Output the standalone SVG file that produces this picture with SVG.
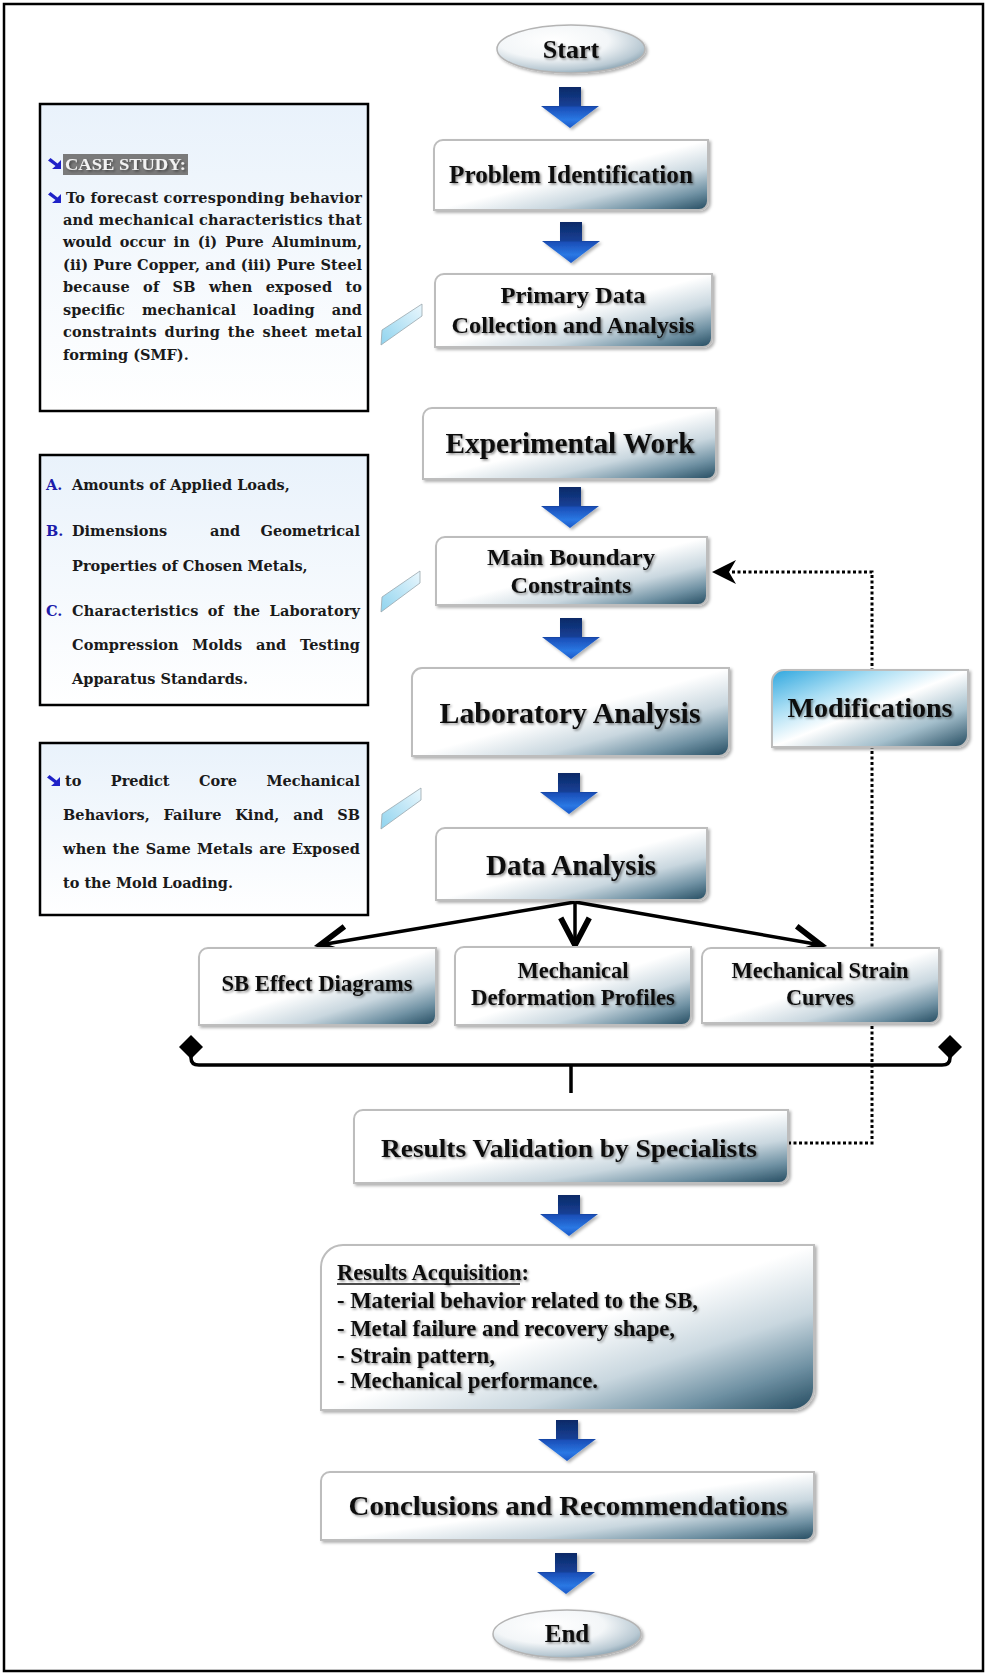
<svg xmlns="http://www.w3.org/2000/svg" width="987" height="1675" viewBox="0 0 987 1675">
<style>
.box{fill:url(#gBox);stroke:#bdbdbd;stroke-width:2;filter:url(#bs)}
.mod{fill:url(#gMod);stroke:#bdbdbd;stroke-width:2;filter:url(#bs)}
.ell{fill:url(#gEll);stroke:#b4b4b4;stroke-width:1.5;filter:url(#bs)}
.t{font-family:"Liberation Serif","Times New Roman",serif;font-weight:bold;fill:#111;text-anchor:middle;filter:url(#ts)}
.tl{font-family:"Liberation Serif","Times New Roman",serif;font-weight:bold;fill:#111;filter:url(#ts)}
.s{font-family:"DejaVu Serif","Liberation Serif",serif;font-weight:bold;font-size:14.5px;fill:#1a1a1a}
.blue{fill:#1c1caa}
.bul{fill:#1f22c8}
.side{fill:url(#gSide);stroke:#000;stroke-width:2.5}
.barr{fill:url(#gArr);filter:url(#bs)}
.wedge{fill:url(#gWedge);stroke:#9aa7ad;stroke-width:0.8}
.line{fill:none;stroke:#000;stroke-width:3.5}
.dot{fill:none;stroke:#000;stroke-width:3;stroke-dasharray:3 2.5}
</style>
<defs>
<linearGradient id="gBox" x1="0" y1="0" x2="1" y2="1">
<stop offset="0" stop-color="#ffffff"/><stop offset="0.5" stop-color="#ffffff"/><stop offset="0.7" stop-color="#c9d7df"/><stop offset="0.86" stop-color="#6f91a3"/><stop offset="1" stop-color="#234a5f"/>
</linearGradient>
<linearGradient id="gMod" x1="0" y1="0" x2="1" y2="1">
<stop offset="0" stop-color="#2ea6de"/><stop offset="0.28" stop-color="#a9def4"/><stop offset="0.5" stop-color="#ffffff"/><stop offset="0.75" stop-color="#a4bfcc"/><stop offset="1" stop-color="#234a5f"/>
</linearGradient>
<radialGradient id="gEll" cx="0.38" cy="0.32" r="0.75">
<stop offset="0" stop-color="#ffffff"/><stop offset="0.5" stop-color="#f3f6f8"/><stop offset="0.82" stop-color="#b9c9d3"/><stop offset="1" stop-color="#7e99a9"/>
</radialGradient>
<linearGradient id="gArr" x1="0" y1="0" x2="0" y2="1">
<stop offset="0" stop-color="#0a2a66"/><stop offset="0.45" stop-color="#173f95"/><stop offset="0.5" stop-color="#1b4fb8"/><stop offset="0.8" stop-color="#2a78e4"/><stop offset="1" stop-color="#1a58c8"/>
</linearGradient>
<linearGradient id="gSide" x1="0" y1="0" x2="0" y2="1">
<stop offset="0" stop-color="#e9f2fb"/><stop offset="1" stop-color="#ffffff"/>
</linearGradient>
<linearGradient id="gWedge" x1="0" y1="1" x2="1" y2="0">
<stop offset="0" stop-color="#8fd3ee"/><stop offset="1" stop-color="#eaf7fd"/>
</linearGradient>
<filter id="ts" x="-5%" y="-30%" width="115%" height="170%"><feDropShadow dx="1.5" dy="1.5" stdDeviation="1" flood-color="#000" flood-opacity="0.45"/></filter>
<filter id="bs" x="-5%" y="-10%" width="115%" height="130%"><feDropShadow dx="2" dy="2" stdDeviation="1.5" flood-color="#000" flood-opacity="0.3"/></filter>
<marker id="vee" markerUnits="userSpaceOnUse" markerWidth="40" markerHeight="40" viewBox="-22 -14 28 28" refX="0" refY="0" orient="auto" overflow="visible">
<path d="M-19,-10 L0,0 L-19,10" fill="none" stroke="#000" stroke-width="4"/>
</marker>
<path id="blk" d="M-11,0 H11 V19 H29 L0,41 L-29,19 H-11 Z"/>
<path id="bul" d="M0,2.5 L2.5,0 L9.5,5.5 L13,2 L13,11 L4,11 L7.5,8 Z"/>
</defs>

<rect x="4" y="4" width="979" height="1667" fill="#fff" stroke="#000" stroke-width="2.5"/>

<g id="connectors">
<path class="dot" d="M788,1143 H872 V572 H732"/>
<path d="M712,572 L736,560 L729,572 L736,584 Z" fill="#000"/>
<path class="line" d="M575,902 L320,945" marker-end="url(#vee)"/>
<path class="line" d="M575,902 L575,945" marker-end="url(#vee)"/>
<path class="line" d="M575,902 L821,945" marker-end="url(#vee)"/>
<path class="line" stroke-width="4" d="M191,1050 V1058 Q191,1065 199,1065 H942 Q950,1065 950,1058 V1050"/>
<path class="line" stroke-width="4" d="M571,1065 V1093"/>
<path d="M191,1035 L203,1047 L191,1059 L179,1047 Z" fill="#000"/>
<path d="M950,1035 L962,1047 L950,1059 L938,1047 Z" fill="#000"/>
<use href="#blk" class="barr" transform="translate(570,87)"/>
<use href="#blk" class="barr" transform="translate(571,222)"/>
<use href="#blk" class="barr" transform="translate(570,487)"/>
<use href="#blk" class="barr" transform="translate(571,618)"/>
<use href="#blk" class="barr" transform="translate(569,773)"/>
<use href="#blk" class="barr" transform="translate(569,1195)"/>
<use href="#blk" class="barr" transform="translate(567,1420)"/>
<use href="#blk" class="barr" transform="translate(566,1553)"/>
<polygon class="wedge" points="381,345 382,330 422,304 422,316"/>
<polygon class="wedge" points="381,612 382,597 420,571 420,583"/>
<polygon class="wedge" points="381,829 382,814 421,788 421,800"/>
</g>

<g id="start">
<ellipse class="ell" cx="571" cy="49" rx="74" ry="24"/>
<text class="t" x="571" y="58" font-size="26">Start</text>
</g>

<g id="case-study">
<rect class="side" x="40" y="104" width="328" height="307"/>
<use href="#bul" class="bul" x="48" y="158"/>
<rect x="63" y="154" width="125" height="21" fill="#7a7a7a"/>
<text class="tl" x="65" y="170" font-size="17" style="fill:#f2f2f2" textLength="121" lengthAdjust="spacingAndGlyphs">CASE STUDY:</text>
<use href="#bul" class="bul" x="48" y="192"/>
<text class="s" x="66" y="203" textLength="296" lengthAdjust="spacing">To forecast corresponding behavior</text>
<text class="s" x="63" y="225" textLength="299" lengthAdjust="spacing">and mechanical characteristics that</text>
<text class="s" x="63" y="247" word-spacing="3" textLength="299" lengthAdjust="spacing">would occur in (i) Pure Aluminum,</text>
<text class="s" x="63" y="270" textLength="299" lengthAdjust="spacing">(ii) Pure Copper, and (iii) Pure Steel</text>
<text class="s" x="63" y="292" word-spacing="8" textLength="299" lengthAdjust="spacing">because of SB when exposed to</text>
<text class="s" x="63" y="315" word-spacing="11.7" textLength="299" lengthAdjust="spacing">specific mechanical loading and</text>
<text class="s" x="63" y="337" word-spacing="2.5" textLength="299" lengthAdjust="spacing">constraints during the sheet metal</text>
<text class="s" x="63" y="360">forming (SMF).</text>
</g>

<g id="constraints-list">
<rect class="side" x="40" y="455" width="328" height="250"/>
<text class="s blue" x="46" y="490">A.</text>
<text class="s" x="72" y="490">Amounts of Applied Loads,</text>
<text class="s blue" x="46" y="536">B.</text>
<text class="s" x="72" y="536">Dimensions</text>
<text class="s" x="210" y="536">and</text>
<text class="s" x="360" y="536" text-anchor="end">Geometrical</text>
<text class="s" x="72" y="571">Properties of Chosen Metals,</text>
<text class="s blue" x="46" y="616">C.</text>
<text class="s" x="72" y="616" word-spacing="4" textLength="288" lengthAdjust="spacing">Characteristics of the Laboratory</text>
<text class="s" x="72" y="650" word-spacing="8.5" textLength="288" lengthAdjust="spacing">Compression Molds and Testing</text>
<text class="s" x="72" y="684">Apparatus Standards.</text>
</g>

<g id="predict-note">
<rect class="side" x="40" y="743" width="328" height="172"/>
<use href="#bul" class="bul" x="47" y="775"/>
<text class="s" x="65" y="786" word-spacing="24.5" textLength="295" lengthAdjust="spacing">to Predict Core Mechanical</text>
<text class="s" x="63" y="820" word-spacing="8.5" textLength="297" lengthAdjust="spacing">Behaviors, Failure Kind, and SB</text>
<text class="s" x="63" y="854" word-spacing="1" textLength="297" lengthAdjust="spacing">when the Same Metals are Exposed</text>
<text class="s" x="63" y="888">to the Mold Loading.</text>
</g>

<g id="problem-identification">
<path class="box" d="M443,140 H708 V201 A9,9 0 0 1 699,210 H434 V149 A9,9 0 0 1 443,140 Z"/>
<text class="t" x="571" y="183" font-size="25" textLength="244" lengthAdjust="spacingAndGlyphs">Problem Identification</text>
</g>

<g id="primary-data">
<path class="box" d="M444,274 H712 V338 A9,9 0 0 1 703,347 H435 V283 A9,9 0 0 1 444,274 Z"/>
<text class="t" x="573" y="303" font-size="24" textLength="145" lengthAdjust="spacingAndGlyphs">Primary Data</text>
<text class="t" x="573" y="333" font-size="24" textLength="243" lengthAdjust="spacingAndGlyphs">Collection and Analysis</text>
</g>

<g id="experimental-work">
<path class="box" d="M432,408 H716 V470 A9,9 0 0 1 707,479 H423 V417 A9,9 0 0 1 432,408 Z"/>
<text class="t" x="570" y="453" font-size="29" textLength="249" lengthAdjust="spacingAndGlyphs">Experimental Work</text>
</g>

<g id="main-boundary">
<path class="box" d="M445,537 H707 V596 A9,9 0 0 1 698,605 H436 V546 A9,9 0 0 1 445,537 Z"/>
<text class="t" x="571" y="565" font-size="24" textLength="168" lengthAdjust="spacingAndGlyphs">Main Boundary</text>
<text class="t" x="571" y="593" font-size="24" textLength="121" lengthAdjust="spacingAndGlyphs">Constraints</text>
</g>

<g id="laboratory-analysis">
<path class="box" d="M422,668 H729 V746 A10,10 0 0 1 719,756 H412 V678 A10,10 0 0 1 422,668 Z"/>
<text class="t" x="570" y="723" font-size="29" textLength="261" lengthAdjust="spacingAndGlyphs">Laboratory Analysis</text>
</g>

<g id="modifications">
<path class="mod" d="M784,670 H968 V735 A12,12 0 0 1 956,747 H772 V682 A12,12 0 0 1 784,670 Z"/>
<text class="t" x="870" y="717" font-size="28" textLength="165" lengthAdjust="spacingAndGlyphs">Modifications</text>
</g>

<g id="data-analysis">
<path class="box" d="M445,828 H707 V891 A9,9 0 0 1 698,900 H436 V837 A9,9 0 0 1 445,828 Z"/>
<text class="t" x="571" y="875" font-size="28.5" textLength="170" lengthAdjust="spacingAndGlyphs">Data Analysis</text>
</g>

<g id="sb-effect">
<path class="box" d="M208,948 H436 V1016 A9,9 0 0 1 427,1025 H199 V957 A9,9 0 0 1 208,948 Z"/>
<text class="t" x="317" y="991" font-size="23" textLength="191" lengthAdjust="spacingAndGlyphs">SB Effect Diagrams</text>
</g>

<g id="deformation-profiles">
<path class="box" d="M464,947 H691 V1016 A9,9 0 0 1 682,1025 H455 V956 A9,9 0 0 1 464,947 Z"/>
<text class="t" x="573" y="978" font-size="23" textLength="111" lengthAdjust="spacingAndGlyphs">Mechanical</text>
<text class="t" x="573" y="1005" font-size="23" textLength="204" lengthAdjust="spacingAndGlyphs">Deformation Profiles</text>
</g>

<g id="strain-curves">
<path class="box" d="M711,948 H939 V1014 A9,9 0 0 1 930,1023 H702 V957 A9,9 0 0 1 711,948 Z"/>
<text class="t" x="820" y="978" font-size="23" textLength="177" lengthAdjust="spacingAndGlyphs">Mechanical Strain</text>
<text class="t" x="820" y="1005" font-size="23" textLength="68" lengthAdjust="spacingAndGlyphs">Curves</text>
</g>

<g id="results-validation">
<path class="box" d="M363,1110 H788 V1174 A9,9 0 0 1 779,1183 H354 V1119 A9,9 0 0 1 363,1110 Z"/>
<text class="t" x="569" y="1157" font-size="25" textLength="376" lengthAdjust="spacingAndGlyphs">Results Validation by Specialists</text>
</g>

<g id="results-acquisition">
<path class="box" d="M343,1245 H814 V1388 A22,22 0 0 1 792,1410 H321 V1267 A22,22 0 0 1 343,1245 Z"/>
<text class="tl" x="337" y="1280" font-size="23" textLength="192" lengthAdjust="spacingAndGlyphs">Results Acquisition:</text>
<line x1="337" y1="1284" x2="520" y2="1284" stroke="#111" stroke-width="1.5"/>
<text class="tl" x="337" y="1308" font-size="23" textLength="361" lengthAdjust="spacingAndGlyphs">- Material behavior related to the SB,</text>
<text class="tl" x="337" y="1336" font-size="23" textLength="338" lengthAdjust="spacingAndGlyphs">- Metal failure and recovery shape,</text>
<text class="tl" x="337" y="1363" font-size="23" textLength="158" lengthAdjust="spacingAndGlyphs">- Strain pattern,</text>
<text class="tl" x="337" y="1388" font-size="23" textLength="261" lengthAdjust="spacingAndGlyphs">- Mechanical performance.</text>
</g>

<g id="conclusions">
<path class="box" d="M330,1472 H814 V1531 A9,9 0 0 1 805,1540 H321 V1481 A9,9 0 0 1 330,1472 Z"/>
<text class="t" x="568" y="1515" font-size="28" textLength="439" lengthAdjust="spacingAndGlyphs">Conclusions and Recommendations</text>
</g>

<g id="end">
<ellipse class="ell" cx="567" cy="1634" rx="74" ry="24"/>
<text class="t" x="567" y="1642" font-size="25">End</text>
</g>
</svg>
